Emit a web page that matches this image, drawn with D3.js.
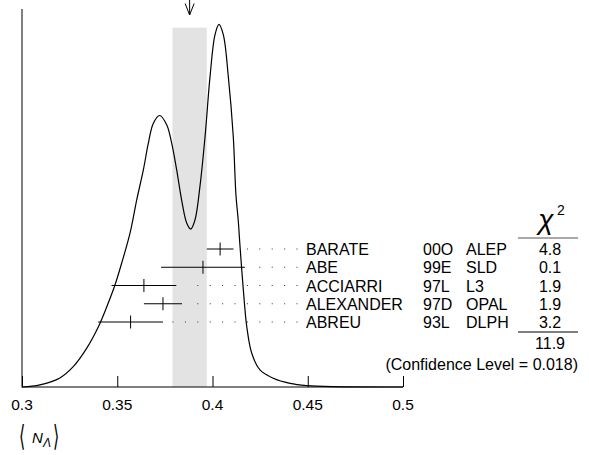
<!DOCTYPE html>
<html><head><meta charset="utf-8">
<script src="https://cdn.jsdelivr.net/npm/d3@7"></script>
<style>
html,body{margin:0;padding:0;background:#fff;}
text{font-family:"Liberation Sans",Arial,Helvetica,sans-serif;fill:#000;}
</style></head>
<body><svg id="c" width="589" height="455"></svg>
<script>
// ---- data ----
const xTicks = [0.3, 0.35, 0.4, 0.45, 0.5];
const xTickLabels = ["0.3", "0.35", "0.4", "0.45", "0.5"];
const authors = ["BARATE", "ABE", "ACCIARRI", "ALEXANDER", "ABREU"];
const codes = ["00O", "99E", "97L", "97D", "93L"];
const experiments = ["ALEP", "SLD", "L3", "OPAL", "DLPH"];
const values = [0.404, 0.395, 0.364, 0.374, 0.357];
const errors = [0.007, 0.022, 0.017, 0.010, 0.017];
const chi2 = ["4.8", "0.1", "1.9", "1.9", "3.2"];
const chi2Total = "11.9";
const confidence = "(Confidence Level = 0.018)";
const mean = 0.388, meanErr = 0.009;
// ideogram curve (relative height)
const curveX = [0.3000,0.3094,0.3199,0.3269,0.3340,0.3401,0.3445,0.3488,0.3523,0.3567,0.3602,0.3637,0.3663,0.3689,0.3722,0.3760,0.3786,0.3812,0.3838,0.3865,0.3886,0.3908,0.3934,0.3961,0.3987,0.4013,0.4034,0.4057,0.4083,0.4109,0.4123,0.4135,0.4144,0.4162,0.4180,0.4206,0.4249,0.4319,0.4407,0.4494,0.4633,0.5000];
const curveY = [0.000,0.006,0.025,0.056,0.107,0.166,0.221,0.281,0.341,0.424,0.515,0.598,0.671,0.726,0.748,0.722,0.671,0.598,0.515,0.451,0.435,0.460,0.552,0.690,0.855,0.970,0.999,0.970,0.855,0.690,0.529,0.460,0.391,0.267,0.166,0.093,0.047,0.024,0.010,0.004,0.001,0.000];

// ---- drawing ----
const FS = 16;
const svg = d3.select("#c");
const x = d3.scaleLinear().domain([0.3, 0.5]).range([22, 403]);
const y = d3.scaleLinear().domain([0, 1]).range([387, 24]);
const rowY = d3.scalePoint().domain(authors).range([249, 322]);

// band
svg.append("rect")
  .attr("x", x(mean - meanErr)).attr("width", x(mean + meanErr) - x(mean - meanErr))
  .attr("y", y(0.99)).attr("height", y(0) - y(0.99))
  .attr("fill", "#e3e3e3");

// arrow
const ax = x(mean);
svg.append("line").attr("x1", ax).attr("x2", ax).attr("y1", 0).attr("y2", 15)
  .attr("stroke", "#000").attr("stroke-width", 1);
svg.append("path").attr("d", `M${ax-4.5},3.5 L${ax},15 L${ax+4.5},3.5`)
  .attr("fill", "none").attr("stroke", "#000").attr("stroke-width", 1);

// curve
const pts = curveX.map((v, i) => [v, curveY[i]]);
svg.append("path").datum(pts)
  .attr("d", d3.line().x(d => x(d[0])).y(d => y(d[1])).curve(d3.curveCatmullRom.alpha(0.5)))
  .attr("fill", "none").attr("stroke", "#000").attr("stroke-width", 1.2);

// axes
svg.append("line").attr("x1", 22).attr("x2", 22).attr("y1", 9).attr("y2", 387.5)
  .attr("stroke", "#000").attr("stroke-width", 1);
const xAxis = d3.axisTop(x).tickValues(xTicks).tickSize(11).tickFormat("");
const gx = svg.append("g").attr("transform", "translate(0,387)").call(xAxis);
gx.select(".domain").attr("d", `M22,0H${x(0.5)}`).attr("stroke", "#000");
gx.selectAll(".tick line").attr("stroke", "#000");
svg.selectAll(".xl").data(xTicks).enter().append("text")
  .attr("x", d => x(d)).attr("y", 410).attr("text-anchor", "middle")
  .attr("font-size", 15.5).text((d, i) => xTickLabels[i]);

// x label
const lab = svg.append("g");
lab.append("text").attr("x", 19).attr("y", 446).attr("font-size", 29)
  .attr("font-family", "DejaVu Sans").attr("transform", "translate(19,446) scale(0.55,1) translate(-19,-446)")
  .text("⟨");
lab.append("text").attr("x", 32).attr("y", 443).attr("font-size", 15).attr("font-style", "italic").text("N");
lab.append("text").attr("x", 43).attr("y", 447).attr("font-size", 12).attr("font-style", "italic").text("Λ");
lab.append("text").attr("x", 53).attr("y", 446).attr("font-size", 29)
  .attr("font-family", "DejaVu Sans").attr("transform", "translate(53,446) scale(0.55,1) translate(-53,-446)")
  .text("⟩");

// measurements
const rows = svg.selectAll(".row").data(authors).enter().append("g");
rows.each(function(a, i) {
  const g = d3.select(this);
  const cy = rowY(a);
  const lo = x(values[i] - errors[i]), hi = x(values[i] + errors[i]);
  g.append("line").attr("x1", lo).attr("x2", hi).attr("y1", cy).attr("y2", cy)
    .attr("stroke", "#000").attr("stroke-width", 1);
  g.append("line").attr("x1", x(values[i])).attr("x2", x(values[i]))
    .attr("y1", cy - 6.5).attr("y2", cy + 6.5).attr("stroke", "#000").attr("stroke-width", 1);
  // dots
  const dots = d3.range(0, 12).map(k => 297 - k * 12.4).filter(px => px > hi + 9.5);
  g.selectAll("circle").data(dots).enter().append("rect")
    .attr("x", d => d - 0.5).attr("y", cy - 0.5).attr("width", 1).attr("height", 1).attr("fill", "#333");
  const by = cy + 6;
  g.append("text").attr("x", 306).attr("y", by).attr("font-size", FS).text(a);
  g.append("text").attr("x", 423).attr("y", by).attr("font-size", FS).text(codes[i]);
  g.append("text").attr("x", 466).attr("y", by).attr("font-size", FS).text(experiments[i]);
  g.append("text").attr("x", 550).attr("y", by).attr("font-size", FS).attr("text-anchor", "middle").text(chi2[i]);
});

// chi2 header
svg.append("text").attr("x", 546).attr("y", 229).attr("font-size", 28).attr("text-anchor", "middle")
  .attr("font-family", "DejaVu Serif").attr("font-style", "italic").text("χ");
svg.append("text").attr("x", 557).attr("y", 215).attr("font-size", 14).text("2");
svg.append("line").attr("x1", 518).attr("x2", 578).attr("y1", 238).attr("y2", 238)
  .attr("stroke", "#555").attr("stroke-width", 1.2);
svg.append("line").attr("x1", 518).attr("x2", 578).attr("y1", 332).attr("y2", 332)
  .attr("stroke", "#000").attr("stroke-width", 1);
svg.append("text").attr("x", 550).attr("y", 349).attr("font-size", FS).attr("text-anchor", "middle").text(chi2Total);
svg.append("text").attr("x", 578).attr("y", 370).attr("font-size", FS).attr("text-anchor", "end").text(confidence);
</script></body></html>
